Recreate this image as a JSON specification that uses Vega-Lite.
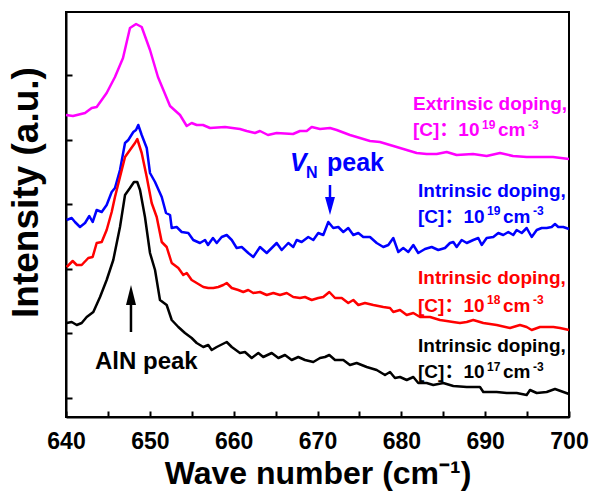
{
  "$schema": "https://vega.github.io/schema/vega-lite/v6.json",
  "width": 503,
  "height": 405,
  "autosize": "none",
  "padding": {"left": 66, "top": 12, "right": 21, "bottom": 76},
  "background": "white",
  "config": {
    "font": "Liberation Sans",
    "view": {"stroke": "black", "strokeWidth": 2},
    "axis": {"grid": false, "domainColor": "black", "domainWidth": 2, "tickColor": "black", "tickWidth": 2, "labelColor": "black", "titleColor": "black", "labelFont": "Liberation Sans", "titleFont": "Liberation Sans", "labelFontWeight": "bold", "titleFontWeight": "bold"},
    "text": {"font": "Liberation Sans", "fontWeight": "bold"}
  },
  "datasets": {
    "spectra": [
      {"s":"E","x":640.0,"y":302},{"s":"E","x":640.83,"y":301},{"s":"E","x":642.27,"y":304},{"s":"E","x":643.07,"y":309},{"s":"E","x":643.66,"y":310},{"s":"E","x":644.85,"y":324},{"s":"E","x":645.84,"y":340},{"s":"E","x":646.8,"y":359},{"s":"E","x":647.63,"y":389},{"s":"E","x":648.36,"y":393},{"s":"E","x":649.03,"y":390},{"s":"E","x":650.02,"y":367},{"s":"E","x":650.97,"y":340},{"s":"E","x":652.41,"y":311},{"s":"E","x":653.6,"y":302},{"s":"E","x":654.4,"y":291},{"s":"E","x":654.99,"y":294},{"s":"E","x":655.59,"y":292},{"s":"E","x":656.34,"y":292},{"s":"E","x":657.18,"y":289},{"s":"E","x":658.97,"y":290},{"s":"E","x":660.75,"y":288},{"s":"E","x":661.55,"y":286},{"s":"E","x":662.54,"y":284},{"s":"E","x":663.14,"y":286},{"s":"E","x":664.09,"y":282},{"s":"E","x":665.13,"y":284},{"s":"E","x":667.08,"y":283},{"s":"E","x":667.91,"y":286},{"s":"E","x":668.71,"y":286},{"s":"E","x":669.31,"y":290},{"s":"E","x":670.3,"y":288},{"s":"E","x":671.49,"y":289},{"s":"E","x":672.29,"y":287},{"s":"E","x":673.87,"y":282},{"s":"E","x":675.07,"y":279},{"s":"E","x":676.26,"y":276},{"s":"E","x":677.45,"y":275},{"s":"E","x":678.65,"y":272},{"s":"E","x":679.45,"y":270},{"s":"E","x":680.64,"y":267},{"s":"E","x":681.83,"y":264},{"s":"E","x":683.02,"y":263},{"s":"E","x":684.22,"y":263},{"s":"E","x":685.41,"y":265},{"s":"E","x":686.6,"y":262},{"s":"E","x":688.55,"y":263},{"s":"E","x":690.18,"y":261},{"s":"E","x":691.77,"y":264},{"s":"E","x":693.32,"y":261},{"s":"E","x":694.95,"y":260},{"s":"E","x":696.54,"y":260},{"s":"E","x":698.09,"y":260},{"s":"E","x":700.0,"y":258},

      {"s":"B","x":640.08,"y":197},{"s":"B","x":640.68,"y":199},{"s":"B","x":641.07,"y":195},{"s":"B","x":641.67,"y":190},{"s":"B","x":642.27,"y":194},{"s":"B","x":642.78,"y":201},{"s":"B","x":643.18,"y":195},{"s":"B","x":643.66,"y":207},{"s":"B","x":644.26,"y":205},{"s":"B","x":644.85,"y":212},{"s":"B","x":645.45,"y":225},{"s":"B","x":645.84,"y":229},{"s":"B","x":646.44,"y":247},{"s":"B","x":647.04,"y":274},{"s":"B","x":647.43,"y":277},{"s":"B","x":648.03,"y":285},{"s":"B","x":648.35,"y":287},{"s":"B","x":648.62,"y":292},{"s":"B","x":649.03,"y":282},{"s":"B","x":649.63,"y":269},{"s":"B","x":650.02,"y":244},{"s":"B","x":650.62,"y":235},{"s":"B","x":651.42,"y":220},{"s":"B","x":651.93,"y":204},{"s":"B","x":652.41,"y":202},{"s":"B","x":652.61,"y":189},{"s":"B","x":653.2,"y":190},{"s":"B","x":653.8,"y":185},{"s":"B","x":654.59,"y":184},{"s":"B","x":655.18,"y":177},{"s":"B","x":655.98,"y":174},{"s":"B","x":656.58,"y":177},{"s":"B","x":656.94,"y":172},{"s":"B","x":657.53,"y":179},{"s":"B","x":657.98,"y":174},{"s":"B","x":658.57,"y":180},{"s":"B","x":659.17,"y":182},{"s":"B","x":659.77,"y":177},{"s":"B","x":660.36,"y":169},{"s":"B","x":660.96,"y":170},{"s":"B","x":661.74,"y":164},{"s":"B","x":662.34,"y":160},{"s":"B","x":663.14,"y":170},{"s":"B","x":663.94,"y":164},{"s":"B","x":664.54,"y":169},{"s":"B","x":665.13,"y":174},{"s":"B","x":665.73,"y":167},{"s":"B","x":666.52,"y":174},{"s":"B","x":667.11,"y":170},{"s":"B","x":667.52,"y":177},{"s":"B","x":668.11,"y":175},{"s":"B","x":668.9,"y":180},{"s":"B","x":669.5,"y":177},{"s":"B","x":670.09,"y":184},{"s":"B","x":670.69,"y":182},{"s":"B","x":671.29,"y":195},{"s":"B","x":671.88,"y":189},{"s":"B","x":672.48,"y":190},{"s":"B","x":673.08,"y":185},{"s":"B","x":673.67,"y":189},{"s":"B","x":674.27,"y":182},{"s":"B","x":674.87,"y":184},{"s":"B","x":675.46,"y":180},{"s":"B","x":676.26,"y":180},{"s":"B","x":677.06,"y":174},{"s":"B","x":677.85,"y":170},{"s":"B","x":678.45,"y":172},{"s":"B","x":679.04,"y":179},{"s":"B","x":679.64,"y":165},{"s":"B","x":680.23,"y":169},{"s":"B","x":680.83,"y":165},{"s":"B","x":681.43,"y":172},{"s":"B","x":682.02,"y":164},{"s":"B","x":682.82,"y":168},{"s":"B","x":683.62,"y":170},{"s":"B","x":684.41,"y":167},{"s":"B","x":685.21,"y":169},{"s":"B","x":685.8,"y":174},{"s":"B","x":686.2,"y":175},{"s":"B","x":686.6,"y":170},{"s":"B","x":687.2,"y":177},{"s":"B","x":687.8,"y":174},{"s":"B","x":688.58,"y":177},{"s":"B","x":689.18,"y":179},{"s":"B","x":689.59,"y":172},{"s":"B","x":690.18,"y":179},{"s":"B","x":690.97,"y":180},{"s":"B","x":691.57,"y":184},{"s":"B","x":692.16,"y":182},{"s":"B","x":692.76,"y":185},{"s":"B","x":693.35,"y":182},{"s":"B","x":693.76,"y":187},{"s":"B","x":694.36,"y":184},{"s":"B","x":694.95,"y":189},{"s":"B","x":695.55,"y":180},{"s":"B","x":696.15,"y":187},{"s":"B","x":696.74,"y":189},{"s":"B","x":697.34,"y":189},{"s":"B","x":697.93,"y":190},{"s":"B","x":698.33,"y":193},{"s":"B","x":698.72,"y":190},{"s":"B","x":699.32,"y":190},{"s":"B","x":700.0,"y":188},

      {"s":"R","x":640.08,"y":150},{"s":"R","x":640.8,"y":156},{"s":"R","x":641.28,"y":152},{"s":"R","x":641.87,"y":152},{"s":"R","x":642.66,"y":159},{"s":"R","x":643.18,"y":160},{"s":"R","x":643.66,"y":174},{"s":"R","x":644.26,"y":175},{"s":"R","x":644.85,"y":187},{"s":"R","x":645.45,"y":205},{"s":"R","x":645.84,"y":220},{"s":"R","x":646.44,"y":240},{"s":"R","x":647.04,"y":260},{"s":"R","x":647.63,"y":267},{"s":"R","x":648.23,"y":274},{"s":"R","x":648.5,"y":278},{"s":"R","x":649.03,"y":264},{"s":"R","x":649.63,"y":240},{"s":"R","x":650.22,"y":214},{"s":"R","x":650.82,"y":200},{"s":"R","x":651.42,"y":175},{"s":"R","x":652.01,"y":170},{"s":"R","x":652.61,"y":154},{"s":"R","x":653.4,"y":149},{"s":"R","x":653.99,"y":142},{"s":"R","x":654.4,"y":144},{"s":"R","x":654.99,"y":137},{"s":"R","x":655.59,"y":134},{"s":"R","x":656.38,"y":130},{"s":"R","x":656.97,"y":129},{"s":"R","x":657.57,"y":129},{"s":"R","x":658.17,"y":130},{"s":"R","x":658.76,"y":132},{"s":"R","x":659.17,"y":134},{"s":"R","x":659.77,"y":129},{"s":"R","x":660.55,"y":127},{"s":"R","x":661.15,"y":125},{"s":"R","x":661.74,"y":127},{"s":"R","x":662.34,"y":124},{"s":"R","x":663.14,"y":125},{"s":"R","x":663.94,"y":122},{"s":"R","x":664.73,"y":124},{"s":"R","x":665.53,"y":122},{"s":"R","x":666.33,"y":124},{"s":"R","x":667.11,"y":120},{"s":"R","x":667.91,"y":119},{"s":"R","x":668.51,"y":120},{"s":"R","x":669.31,"y":117},{"s":"R","x":670.09,"y":119},{"s":"R","x":670.69,"y":120},{"s":"R","x":671.41,"y":125},{"s":"R","x":672.09,"y":119},{"s":"R","x":672.89,"y":119},{"s":"R","x":673.67,"y":114},{"s":"R","x":674.27,"y":117},{"s":"R","x":674.87,"y":112},{"s":"R","x":675.66,"y":114},{"s":"R","x":676.66,"y":112},{"s":"R","x":677.85,"y":110},{"s":"R","x":678.65,"y":109},{"s":"R","x":679.04,"y":105},{"s":"R","x":679.84,"y":107},{"s":"R","x":680.64,"y":102},{"s":"R","x":681.43,"y":104},{"s":"R","x":682.23,"y":100},{"s":"R","x":683.42,"y":100},{"s":"R","x":684.61,"y":97},{"s":"R","x":685.41,"y":96},{"s":"R","x":686.16,"y":95},{"s":"R","x":686.99,"y":94},{"s":"R","x":687.8,"y":95},{"s":"R","x":688.58,"y":97},{"s":"R","x":689.78,"y":94},{"s":"R","x":691.37,"y":92},{"s":"R","x":692.96,"y":89},{"s":"R","x":694.15,"y":92},{"s":"R","x":694.95,"y":90},{"s":"R","x":695.55,"y":87},{"s":"R","x":696.54,"y":90},{"s":"R","x":698.13,"y":90},{"s":"R","x":698.93,"y":89},{"s":"R","x":700.0,"y":87},

      {"s":"K","x":640.08,"y":94},{"s":"K","x":640.68,"y":95},{"s":"K","x":641.28,"y":92},{"s":"K","x":641.87,"y":94},{"s":"K","x":642.47,"y":100},{"s":"K","x":643.26,"y":105},{"s":"K","x":644.06,"y":120},{"s":"K","x":644.85,"y":137},{"s":"K","x":645.64,"y":157},{"s":"K","x":646.44,"y":190},{"s":"K","x":647.04,"y":222},{"s":"K","x":647.63,"y":229},{"s":"K","x":648.11,"y":235},{"s":"K","x":648.5,"y":235},{"s":"K","x":648.83,"y":227},{"s":"K","x":649.42,"y":200},{"s":"K","x":650.02,"y":164},{"s":"K","x":650.62,"y":147},{"s":"K","x":651.21,"y":117},{"s":"K","x":652.01,"y":112},{"s":"K","x":652.61,"y":97},{"s":"K","x":653.4,"y":90},{"s":"K","x":654.19,"y":84},{"s":"K","x":654.99,"y":79},{"s":"K","x":655.59,"y":74},{"s":"K","x":655.98,"y":72},{"s":"K","x":656.38,"y":70},{"s":"K","x":656.97,"y":72},{"s":"K","x":657.38,"y":67},{"s":"K","x":657.98,"y":70},{"s":"K","x":659.17,"y":75},{"s":"K","x":659.77,"y":70},{"s":"K","x":660.75,"y":64},{"s":"K","x":661.35,"y":65},{"s":"K","x":662.15,"y":59},{"s":"K","x":662.94,"y":64},{"s":"K","x":663.53,"y":60},{"s":"K","x":664.54,"y":64},{"s":"K","x":665.33,"y":59},{"s":"K","x":666.12,"y":62},{"s":"K","x":666.92,"y":57},{"s":"K","x":667.71,"y":60},{"s":"K","x":668.51,"y":57},{"s":"K","x":669.5,"y":55},{"s":"K","x":670.3,"y":59},{"s":"K","x":670.89,"y":60},{"s":"K","x":671.41,"y":62},{"s":"K","x":672.09,"y":57},{"s":"K","x":673.08,"y":57},{"s":"K","x":673.87,"y":52},{"s":"K","x":674.67,"y":54},{"s":"K","x":675.87,"y":50},{"s":"K","x":677.06,"y":47},{"s":"K","x":678.05,"y":42},{"s":"K","x":678.65,"y":45},{"s":"K","x":679.24,"y":39},{"s":"K","x":679.84,"y":40},{"s":"K","x":680.64,"y":37},{"s":"K","x":681.43,"y":40},{"s":"K","x":682.02,"y":34},{"s":"K","x":683.02,"y":34},{"s":"K","x":683.81,"y":32},{"s":"K","x":685.0,"y":34},{"s":"K","x":686.2,"y":31},{"s":"K","x":687.8,"y":30},{"s":"K","x":689.38,"y":30},{"s":"K","x":689.78,"y":25},{"s":"K","x":691.37,"y":25},{"s":"K","x":692.57,"y":24},{"s":"K","x":693.76,"y":24},{"s":"K","x":694.95,"y":22},{"s":"K","x":695.35,"y":27},{"s":"K","x":696.15,"y":24},{"s":"K","x":697.34,"y":25},{"s":"K","x":698.33,"y":28},{"s":"K","x":700.0,"y":23}
    ],
    "labels": [
      {"t":"Extrinsic doping,","x":681.39,"y":307,"c":"E"},
      {"t":"[C]：10","x":681.39,"y":281,"c":"E"},
      {"t":"cm","x":691.53,"y":281,"c":"E"},
      {"t":"Intrinsic doping,","x":681.99,"y":220.3,"c":"B"},
      {"t":"[C]：10","x":681.99,"y":194.3,"c":"B"},
      {"t":"cm","x":692.13,"y":194.3,"c":"B"},
      {"t":"Intrinsic doping,","x":681.99,"y":132.7,"c":"R"},
      {"t":"[C]：10","x":681.99,"y":105.3,"c":"R"},
      {"t":"cm","x":692.13,"y":105.3,"c":"R"},
      {"t":"Intrinsic doping,","x":681.99,"y":65.3,"c":"K"},
      {"t":"[C]：10","x":681.99,"y":38.7,"c":"K"},
      {"t":"cm","x":692.13,"y":38.7,"c":"K"}
    ],
    "sups": [
      {"t":"19","x":689.62,"y":288.5,"c":"E"},
      {"t":"-3","x":695.11,"y":288.5,"c":"E"},
      {"t":"19","x":690.22,"y":201.8,"c":"B"},
      {"t":"-3","x":695.7,"y":201.8,"c":"B"},
      {"t":"18","x":690.22,"y":112.8,"c":"R"},
      {"t":"-3","x":695.7,"y":112.8,"c":"R"},
      {"t":"17","x":690.22,"y":46.2,"c":"K"},
      {"t":"-3","x":695.7,"y":46.2,"c":"K"}
    ]
  },
  "layer": [
    {
      "data": {"name": "spectra"},
      "mark": {"type": "line", "strokeWidth": 2.5, "strokeJoin": "round"},
      "encoding": {
        "x": {"field": "x", "type": "quantitative", "scale": {"domain": [640, 700], "nice": false},
          "axis": {"title": "Wave number (cm⁻¹)", "titleFontSize": 32, "titlePadding": 5, "labelFontSize": 23, "labelPadding": 19, "tickSize": -6, "values": [640,645,650,655,660,665,670,675,680,685,690,695,700], "labelExpr": "datum.value % 10 == 0 ? datum.label : ''", "labelFlush": false}},
        "y": {"field": "y", "type": "quantitative", "scale": {"domain": [0, 405], "nice": false, "zero": false},
          "axis": {"title": "Intensity (a.u.)", "titleFontSize": 37, "titlePadding": 20, "titleY": 180, "labels": false, "tickSize": -6, "values": [19,51.3,83.6,115.9,148.2,180.5,212.8,245.1,277.4,309.7,342,374.3]}},
        "color": {"field": "s", "type": "nominal", "scale": {"domain": ["E","B","R","K"], "range": ["#ff00ff","#0000ff","#ff0000","#000000"]}, "legend": null},
        "order": {"field": "x", "type": "quantitative"}
      }
    },
    {
      "data": {"values": [{"x": 647.75, "y": 85, "y2": 117, "c": "K"}, {"x": 671.49, "y": 217, "y2": 232, "c": "B"}]},
      "mark": {"type": "rule", "strokeWidth": 2.5},
      "encoding": {
        "x": {"field": "x", "type": "quantitative"},
        "y": {"field": "y", "type": "quantitative"},
        "y2": {"field": "y2"},
        "color": {"field": "c", "type": "nominal", "scale": {"domain": ["E","B","R","K"], "range": ["#ff00ff","#0000ff","#ff0000","#000000"]}, "legend": null}
      }
    },
    {
      "data": {"values": [{"x": 647.75, "y": 122}]},
      "mark": {"type": "point", "shape": "M-0.5,1L0.5,1L0,-1Z", "size": 400, "filled": true, "opacity": 1, "color": "#000000", "strokeWidth": 0},
      "encoding": {"x": {"field": "x", "type": "quantitative"}, "y": {"field": "y", "type": "quantitative"}}
    },
    {
      "data": {"values": [{"x": 671.49, "y": 211}]},
      "mark": {"type": "point", "shape": "M-0.55,-1L0.55,-1L0,1Z", "size": 324, "filled": true, "opacity": 1, "color": "#0000ff", "strokeWidth": 0},
      "encoding": {"x": {"field": "x", "type": "quantitative"}, "y": {"field": "y", "type": "quantitative"}}
    },
    {
      "data": {"name": "labels"},
      "mark": {"type": "text", "fontSize": 19, "align": "left", "baseline": "alphabetic", "font": "Liberation Sans, Noto Sans CJK SC"},
      "encoding": {
        "x": {"field": "x", "type": "quantitative"},
        "y": {"field": "y", "type": "quantitative"},
        "text": {"field": "t"},
        "color": {"field": "c", "type": "nominal", "scale": {"domain": ["E","B","R","K"], "range": ["#ff00ff","#0000ff","#ff0000","#000000"]}, "legend": null}
      }
    },
    {
      "data": {"name": "sups"},
      "mark": {"type": "text", "fontSize": 12, "align": "left", "baseline": "alphabetic"},
      "encoding": {
        "x": {"field": "x", "type": "quantitative"},
        "y": {"field": "y", "type": "quantitative"},
        "text": {"field": "t"},
        "color": {"field": "c", "type": "nominal", "scale": {"domain": ["E","B","R","K"], "range": ["#ff00ff","#0000ff","#ff0000","#000000"]}, "legend": null}
      }
    },
    {
      "data": {"values": [{"t": "V", "x": 666.72, "y": 246}]},
      "mark": {"type": "text", "fontSize": 25, "fontStyle": "italic", "align": "left", "baseline": "alphabetic", "color": "#0000ff"},
      "encoding": {"x": {"field": "x", "type": "quantitative"}, "y": {"field": "y", "type": "quantitative"}, "text": {"field": "t"}}
    },
    {
      "data": {"values": [{"t": "N", "x": 668.63, "y": 239}]},
      "mark": {"type": "text", "fontSize": 16, "align": "left", "baseline": "alphabetic", "color": "#0000ff"},
      "encoding": {"x": {"field": "x", "type": "quantitative"}, "y": {"field": "y", "type": "quantitative"}, "text": {"field": "t"}}
    },
    {
      "data": {"values": [{"t": "peak", "x": 671.13, "y": 246}]},
      "mark": {"type": "text", "fontSize": 25, "align": "left", "baseline": "alphabetic", "color": "#0000ff"},
      "encoding": {"x": {"field": "x", "type": "quantitative"}, "y": {"field": "y", "type": "quantitative"}, "text": {"field": "t"}}
    },
    {
      "data": {"values": [{"t": "AlN peak", "x": 643.46, "y": 48}]},
      "mark": {"type": "text", "fontSize": 24, "align": "left", "baseline": "alphabetic", "color": "#000000"},
      "encoding": {"x": {"field": "x", "type": "quantitative"}, "y": {"field": "y", "type": "quantitative"}, "text": {"field": "t"}}
    }
  ]
}
